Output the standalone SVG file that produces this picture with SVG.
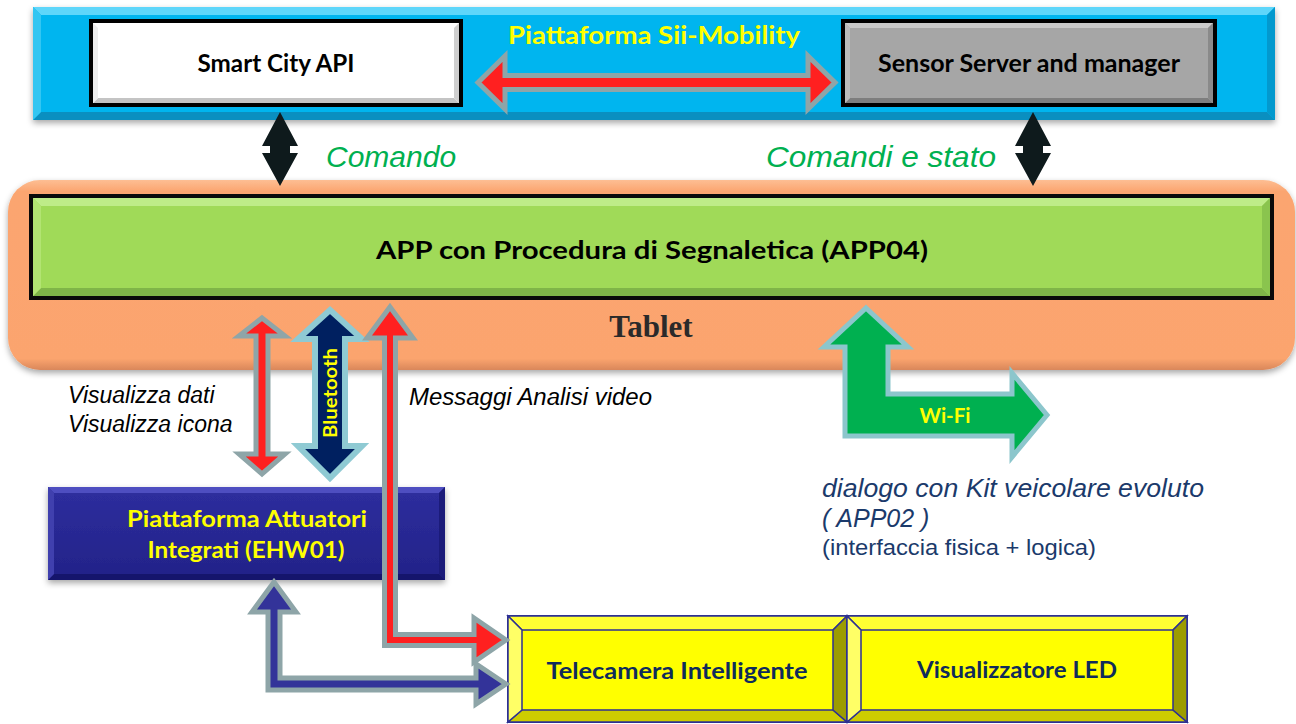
<svg xmlns="http://www.w3.org/2000/svg" width="1296" height="724" viewBox="0 0 1296 724">
<style>
.cal{font-family:Lato,"Open Sans","Liberation Sans",sans-serif;font-weight:700;}
.ital{font-family:"Liberation Sans",Arial,sans-serif;font-style:italic;}
.reg{font-family:"Liberation Sans",Arial,sans-serif;}
.redarr{fill:#FF2020;stroke:#8EA5A8;stroke-width:5;stroke-linejoin:miter;}
.blk{fill:#0E1A1C;}
</style>
<defs>
<filter id="sh" x="-5%" y="-10%" width="110%" height="130%">
<feDropShadow dx="0" dy="3" stdDeviation="3" flood-color="#000" flood-opacity="0.35"/>
</filter>
<linearGradient id="orangeG" x1="0" y1="0" x2="0" y2="1">
<stop offset="0" stop-color="#FDBE93"/>
<stop offset="0.06" stop-color="#FBA570"/>
<stop offset="0.94" stop-color="#FBA46E"/>
<stop offset="1" stop-color="#D9875A"/>
</linearGradient>
<linearGradient id="navyG" x1="0" y1="0" x2="0" y2="1">
<stop offset="0" stop-color="#2E2E9E"/>
<stop offset="1" stop-color="#222288"/>
</linearGradient>
</defs>

<!-- Blue platform band -->
<g id="piattaforma">
<g filter="url(#sh)">
<rect x="33" y="7" width="1242" height="113" fill="#00B5EF"/>
</g>
<polygon points="33,7 1275,7 1267,15 41,15" fill="#5ED6FA"/>
<polygon points="33,120 1275,120 1267,112 41,112" fill="#0A8FC0"/>
<polygon points="33,7 41,15 41,112 33,120" fill="#33C6F2"/>
<polygon points="1275,7 1267,15 1267,112 1275,120" fill="#0399CE"/>
<text class="cal" x="654" y="44" font-size="24" fill="#FFFF00" text-anchor="middle" textLength="292" lengthAdjust="spacingAndGlyphs">Piattaforma Sii-Mobility</text>
</g>

<g id="smartcity">
<rect x="89" y="19" width="374" height="88" fill="#000"/>
<rect x="93" y="23" width="366" height="80" fill="#FFFFFF"/>
<polygon points="93,23 459,23 454,28 98,28" fill="#FFFFFF"/>
<polygon points="93,103 459,103 454,98 98,98" fill="#C4C4C4"/>
<polygon points="93,23 98,28 98,98 93,103" fill="#EDEDED"/>
<polygon points="459,23 454,28 454,98 459,103" fill="#CFCFCF"/>
<text class="cal" x="276" y="72" font-size="24" fill="#000" text-anchor="middle" textLength="157" lengthAdjust="spacingAndGlyphs">Smart City API</text>
</g>

<g id="sensorserver">
<rect x="841" y="19" width="376" height="88" fill="#000"/>
<rect x="845" y="23" width="368" height="80" fill="#A6A6A6"/>
<polygon points="845,23 1213,23 1208,28 850,28" fill="#C9C9C9"/>
<polygon points="845,103 1213,103 1208,98 850,98" fill="#7E7E7E"/>
<polygon points="845,23 850,28 850,98 845,103" fill="#BBBBBB"/>
<polygon points="1213,23 1208,28 1208,98 1213,103" fill="#8A8A8A"/>
<text class="cal" x="1029" y="72" font-size="24" fill="#000" text-anchor="middle" textLength="302" lengthAdjust="spacingAndGlyphs">Sensor Server and manager</text>
</g>

<!-- Tablet -->
<g id="tablet">
<rect x="8" y="180" width="1287" height="190" rx="32" ry="32" fill="url(#orangeG)" filter="url(#sh)"/>
<text x="651" y="337" font-family="'Liberation Serif','Times New Roman',serif" font-weight="700" font-size="31" fill="#2A2A2A" text-anchor="middle">Tablet</text>
</g>

<g id="app04">
<rect x="29" y="194" width="1245" height="106" fill="#0A0A0A"/>
<rect x="33" y="198" width="1237" height="98" fill="#A0DA58"/>
<polygon points="33,198 1270,198 1262,206 41,206" fill="#BEEC88"/>
<polygon points="33,296 1270,296 1262,288 41,288" fill="#7FB548"/>
<polygon points="33,198 41,206 41,288 33,296" fill="#B2E472"/>
<polygon points="1270,198 1262,206 1262,288 1270,296" fill="#8AC44E"/>
<text class="cal" x="652" y="259" font-size="25" fill="#000" text-anchor="middle" textLength="552" lengthAdjust="spacingAndGlyphs">APP con Procedura di Segnaletica (APP04)</text>
</g>

<!-- EHW01 -->
<g id="ehw01">
<rect x="48" y="487" width="397" height="93" fill="url(#navyG)" filter="url(#sh)"/>
<polygon points="48,487 445,487 439,493 54,493" fill="#4E4EC0"/>
<polygon points="48,580 445,580 439,574 54,574" fill="#15156C"/>
<polygon points="48,487 54,493 54,574 48,580" fill="#4040AE"/>
<polygon points="445,487 439,493 439,574 445,580" fill="#1B1B7A"/>
<text class="cal" x="247" y="527" font-size="23" fill="#FFFF00" text-anchor="middle" textLength="240" lengthAdjust="spacingAndGlyphs">Piattaforma Attuatori</text>
<text class="cal" x="246" y="558" font-size="23" fill="#FFFF00" text-anchor="middle" textLength="197" lengthAdjust="spacingAndGlyphs">Integrati (EHW01)</text>
</g>

<!-- Telecamera -->
<g id="telecamera">
<rect x="508" y="616" width="339" height="106" fill="#FFFF00" stroke="#2E3192" stroke-width="2"/>
<polygon points="508,616 847,616 833,630 522,630" fill="#FFFF33" stroke="#2E3192" stroke-width="1.5"/>
<polygon points="508,722 847,722 833,710 522,710" fill="#CDCD00" stroke="#2E3192" stroke-width="1.5"/>
<polygon points="508,616 522,630 522,710 508,722" fill="#FFFF66" stroke="#2E3192" stroke-width="1.5"/>
<polygon points="847,616 833,630 833,710 847,722" fill="#9C9C00" stroke="#2E3192" stroke-width="1.5"/>
<text class="cal" x="677" y="679" font-size="23" fill="#0F2B5B" text-anchor="middle" textLength="261" lengthAdjust="spacingAndGlyphs">Telecamera Intelligente</text>
</g>

<!-- Visualizzatore LED -->
<g id="visualizzatore">
<rect x="847" y="616" width="340" height="106" fill="#FFFF00" stroke="#2E3192" stroke-width="2"/>
<polygon points="847,616 1187,616 1173,630 861,630" fill="#FFFF33" stroke="#2E3192" stroke-width="1.5"/>
<polygon points="847,722 1187,722 1173,710 861,710" fill="#CDCD00" stroke="#2E3192" stroke-width="1.5"/>
<polygon points="847,616 861,630 861,710 847,722" fill="#FFFF66" stroke="#2E3192" stroke-width="1.5"/>
<polygon points="1187,616 1173,630 1173,710 1187,722" fill="#9C9C00" stroke="#2E3192" stroke-width="1.5"/>
<text class="cal" x="1017" y="678" font-size="23" fill="#0F2B5B" text-anchor="middle" textLength="200" lengthAdjust="spacingAndGlyphs">Visualizzatore LED</text>
</g>

<!-- Connectors -->
<g id="connectors">
<!-- Smart City <-> Sensor server -->
<polygon class="redarr" points="478,82.5 505,56 505,75.5 808,75.5 808,56 835,82.5 808,109 808,89.5 505,89.5 505,109"/>
<!-- Black vertical double arrows -->
<polygon class="blk" points="280,112 298,146 290,146 290,153 298,153 280,186 262,153 270,153 270,146 262,146"/>
<polygon class="blk" points="1033,112 1051,146 1043,146 1043,153 1051,153 1033,186 1015,153 1023,153 1023,146 1015,146"/>
<!-- Visualizza red double arrow -->
<polygon class="redarr" points="262,318 285,336 268,336 268,454 285,454 262,474 239,454 256,454 256,336 239,336"/>
<!-- Bluetooth -->
<polygon points="330,310 362,339 345,339 345,446 362,446 330,478 298,446 315,446 315,339 298,339" fill="#002060" stroke="#8FCAD3" stroke-width="6" stroke-linejoin="miter"/>
<text class="cal" font-size="19" fill="#FFFF00" text-anchor="middle" transform="translate(337,393) rotate(-90)" textLength="90" lengthAdjust="spacingAndGlyphs">Bluetooth</text>
<!-- Messaggi Analisi video (red L arrow to Telecamera) -->
<polygon class="redarr" points="390,307 413,338 395.5,338 395.5,634.5 474,634.5 474,618 506,640 474,662 474,645.5 384.5,645.5 384.5,338 367,338"/>
<!-- EHW01 <-> Telecamera (blue L arrow) -->
<polygon points="274,582 296,612 280,612 280,678 476,678 476,664 506,684 476,704 476,690 268,690 268,612 252,612" fill="#333399" stroke="#8EA5A8" stroke-width="5" stroke-linejoin="miter"/>
<!-- Wi-Fi -->
<polygon points="866,308 908,347 888,347 888,394 1012,394 1012,373 1047,415 1012,457 1012,436 845,436 845,347 824,347" fill="#00B050" stroke="#8CC6CC" stroke-width="5" stroke-linejoin="miter"/>
<text class="cal" x="945" y="423" font-size="21" fill="#FFFF00" text-anchor="middle" textLength="51" lengthAdjust="spacingAndGlyphs">Wi-Fi</text>
</g>

<!-- Labels -->
<g id="labels">
<text class="ital" x="326" y="167" font-size="30" fill="#00B050">Comando</text>
<text class="ital" x="766" y="167" font-size="30" fill="#00B050" textLength="230" lengthAdjust="spacingAndGlyphs">Comandi e stato</text>
<text class="ital" x="68" y="403" font-size="23" fill="#000">Visualizza dati</text>
<text class="ital" x="68" y="432" font-size="23" fill="#000">Visualizza icona</text>
<text class="ital" x="409" y="405" font-size="23" fill="#000" textLength="243" lengthAdjust="spacingAndGlyphs">Messaggi Analisi video</text>
<text class="ital" x="822" y="497" font-size="25" fill="#1B3A6B" textLength="382" lengthAdjust="spacingAndGlyphs">dialogo con Kit veicolare evoluto</text>
<text class="ital" x="822" y="527" font-size="25" fill="#1B3A6B">( APP02 )</text>
<text class="reg" x="822" y="555" font-size="22" fill="#1B3A6B" textLength="274" lengthAdjust="spacingAndGlyphs">(interfaccia fisica + logica)</text>
</g>
</svg>
